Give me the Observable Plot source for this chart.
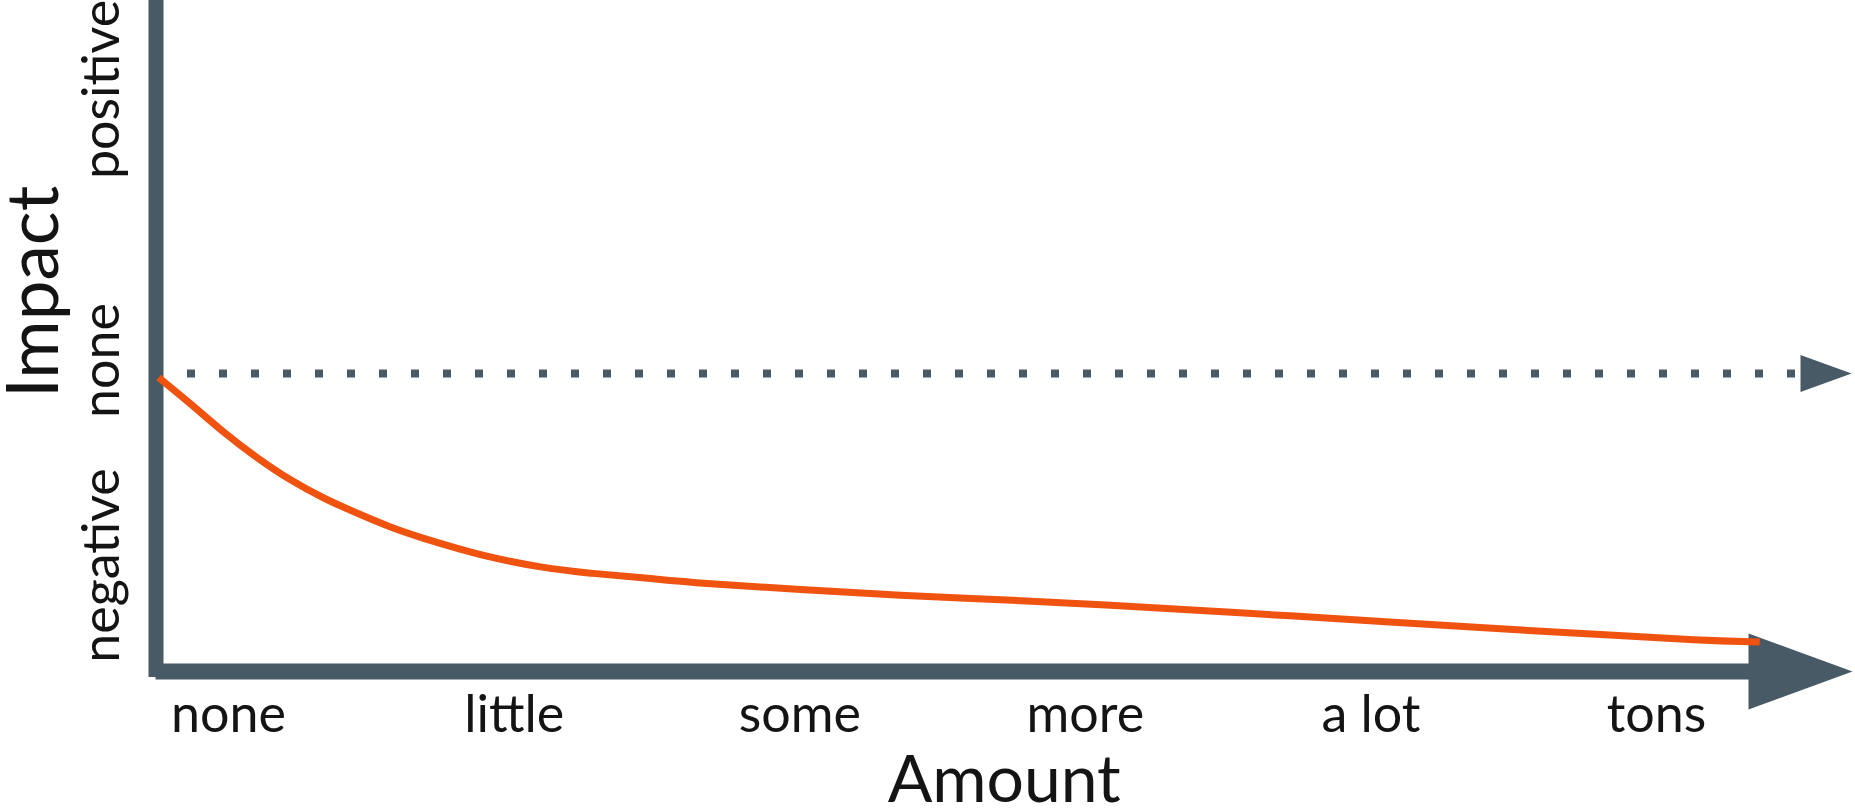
<!DOCTYPE html>
<html>
<head>
<meta charset="utf-8">
<script src="https://cdn.jsdelivr.net/npm/d3@7"></script>
<script src="https://cdn.jsdelivr.net/npm/@observablehq/plot@0.6"></script>
<style>
  html, body { margin: 0; padding: 0; background: #ffffff; }
  #chart svg { display: block; }
</style>
</head>
<body>
<div id="chart"></div>
<script>
// Amount categories along the horizontal axis (positions 0..5)
const amountLabels = ["none", "little", "some", "more", "a lot", "tons"];
const amountTicks = [0, 1, 2, 3, 4, 5];

// Impact levels along the vertical axis (0 = no impact)
const impactLabels = ["negative", "none", "positive"];
const impactTicks = [-1.92, 0.13, 2.84];

// Impact as the amount grows
const curveAmount = [-0.245, -0.133, -0.018, 0.102, 0.217, 0.333, 0.452, 0.567, 0.683, 0.802,
  0.917, 1.092, 1.268, 1.443, 1.653, 2.003, 2.353, 2.703, 3.053, 3.522, 4.104, 4.454, 4.804, 5.154, 5.361];
const curveImpact = [-0.04, -0.30, -0.59, -0.85, -1.07, -1.25, -1.40, -1.54, -1.65, -1.75,
  -1.84, -1.94, -2.00, -2.04, -2.10, -2.16, -2.22, -2.26, -2.31, -2.39, -2.49, -2.555, -2.61, -2.67, -2.685];

const curve = curveAmount.map((a, i) => ({amount: a, impact: curveImpact[i]}));
const xDomain = [-0.254, 5.686];
const yDomain = [-2.98, 3.73];

const axisColor = "#485a66";
const lineColor = "#f0520f";
const textColor = "#141414";

// Filled triangular arrow head pointing right, tip at the anchor point
const arrowHead = {
  draw(context, size) {
    const r = Math.sqrt(size / Math.PI);
    context.moveTo(0, 0);
    context.lineTo(-2 * r, -0.73 * r);
    context.lineTo(-2 * r, 0.73 * r);
    context.closePath();
  }
};

const chart = Plot.plot({
  width: 1855,
  height: 811,
  marginLeft: 155.5,
  marginRight: 3,
  marginTop: 0,
  marginBottom: 140,
  x: {domain: xDomain, axis: null},
  y: {domain: yDomain, axis: null},
  style: {fontFamily: "Lato, 'Open Sans', sans-serif", background: "#ffffff", color: textColor},
  marks: [
    // dotted "no impact" reference line and its head
    Plot.ruleY([0], {stroke: axisColor, strokeWidth: 8, strokeDasharray: "8 24", insetLeft: 31.5, insetRight: 52}),
    Plot.dot([0], {y: d => d, frameAnchor: "right", dx: -1, symbol: arrowHead, r: 25.5, fill: axisColor, stroke: "none"}),
    // vertical (impact) axis
    Plot.ruleX([xDomain[0]], {stroke: axisColor, strokeWidth: 15, insetBottom: -6}),
    // horizontal (amount) axis with arrow head
    Plot.ruleY([yDomain[0]], {x1: xDomain[0], x2: xDomain[1], stroke: axisColor, strokeWidth: 16, insetRight: 60}),
    Plot.dot([yDomain[0]], {y: d => d, frameAnchor: "right", symbol: arrowHead, r: 52, fill: axisColor, stroke: "none"}),
    // impact curve
    Plot.line(curve, {x: "amount", y: "impact", stroke: lineColor, strokeWidth: 7, curve: "basis", strokeLinecap: "butt"}),
    // amount tick labels
    Plot.text(amountTicks, {x: d => d, text: (d, i) => amountLabels[i], frameAnchor: "bottom", dy: 44, fontSize: 52, textAnchor: "middle", lineAnchor: "middle", fill: textColor}),
    // impact tick labels
    Plot.text(impactTicks, {y: d => d, text: (d, i) => impactLabels[i], frameAnchor: "left", dx: -54, rotate: -90, fontSize: 52, textAnchor: "middle", lineAnchor: "middle", fill: textColor}),
    // axis titles
    Plot.text(["Amount"], {text: d => d, frameAnchor: "bottom", dy: 109, fontSize: 66, textAnchor: "middle", lineAnchor: "middle", fill: textColor}),
    Plot.text(["Impact"], {text: d => d, frameAnchor: "top-left", dx: -121, dy: 291.5, rotate: -90, fontSize: 71, textAnchor: "middle", lineAnchor: "middle", fill: textColor})
  ]
});

document.getElementById("chart").appendChild(chart);
</script>
</body>
</html>
